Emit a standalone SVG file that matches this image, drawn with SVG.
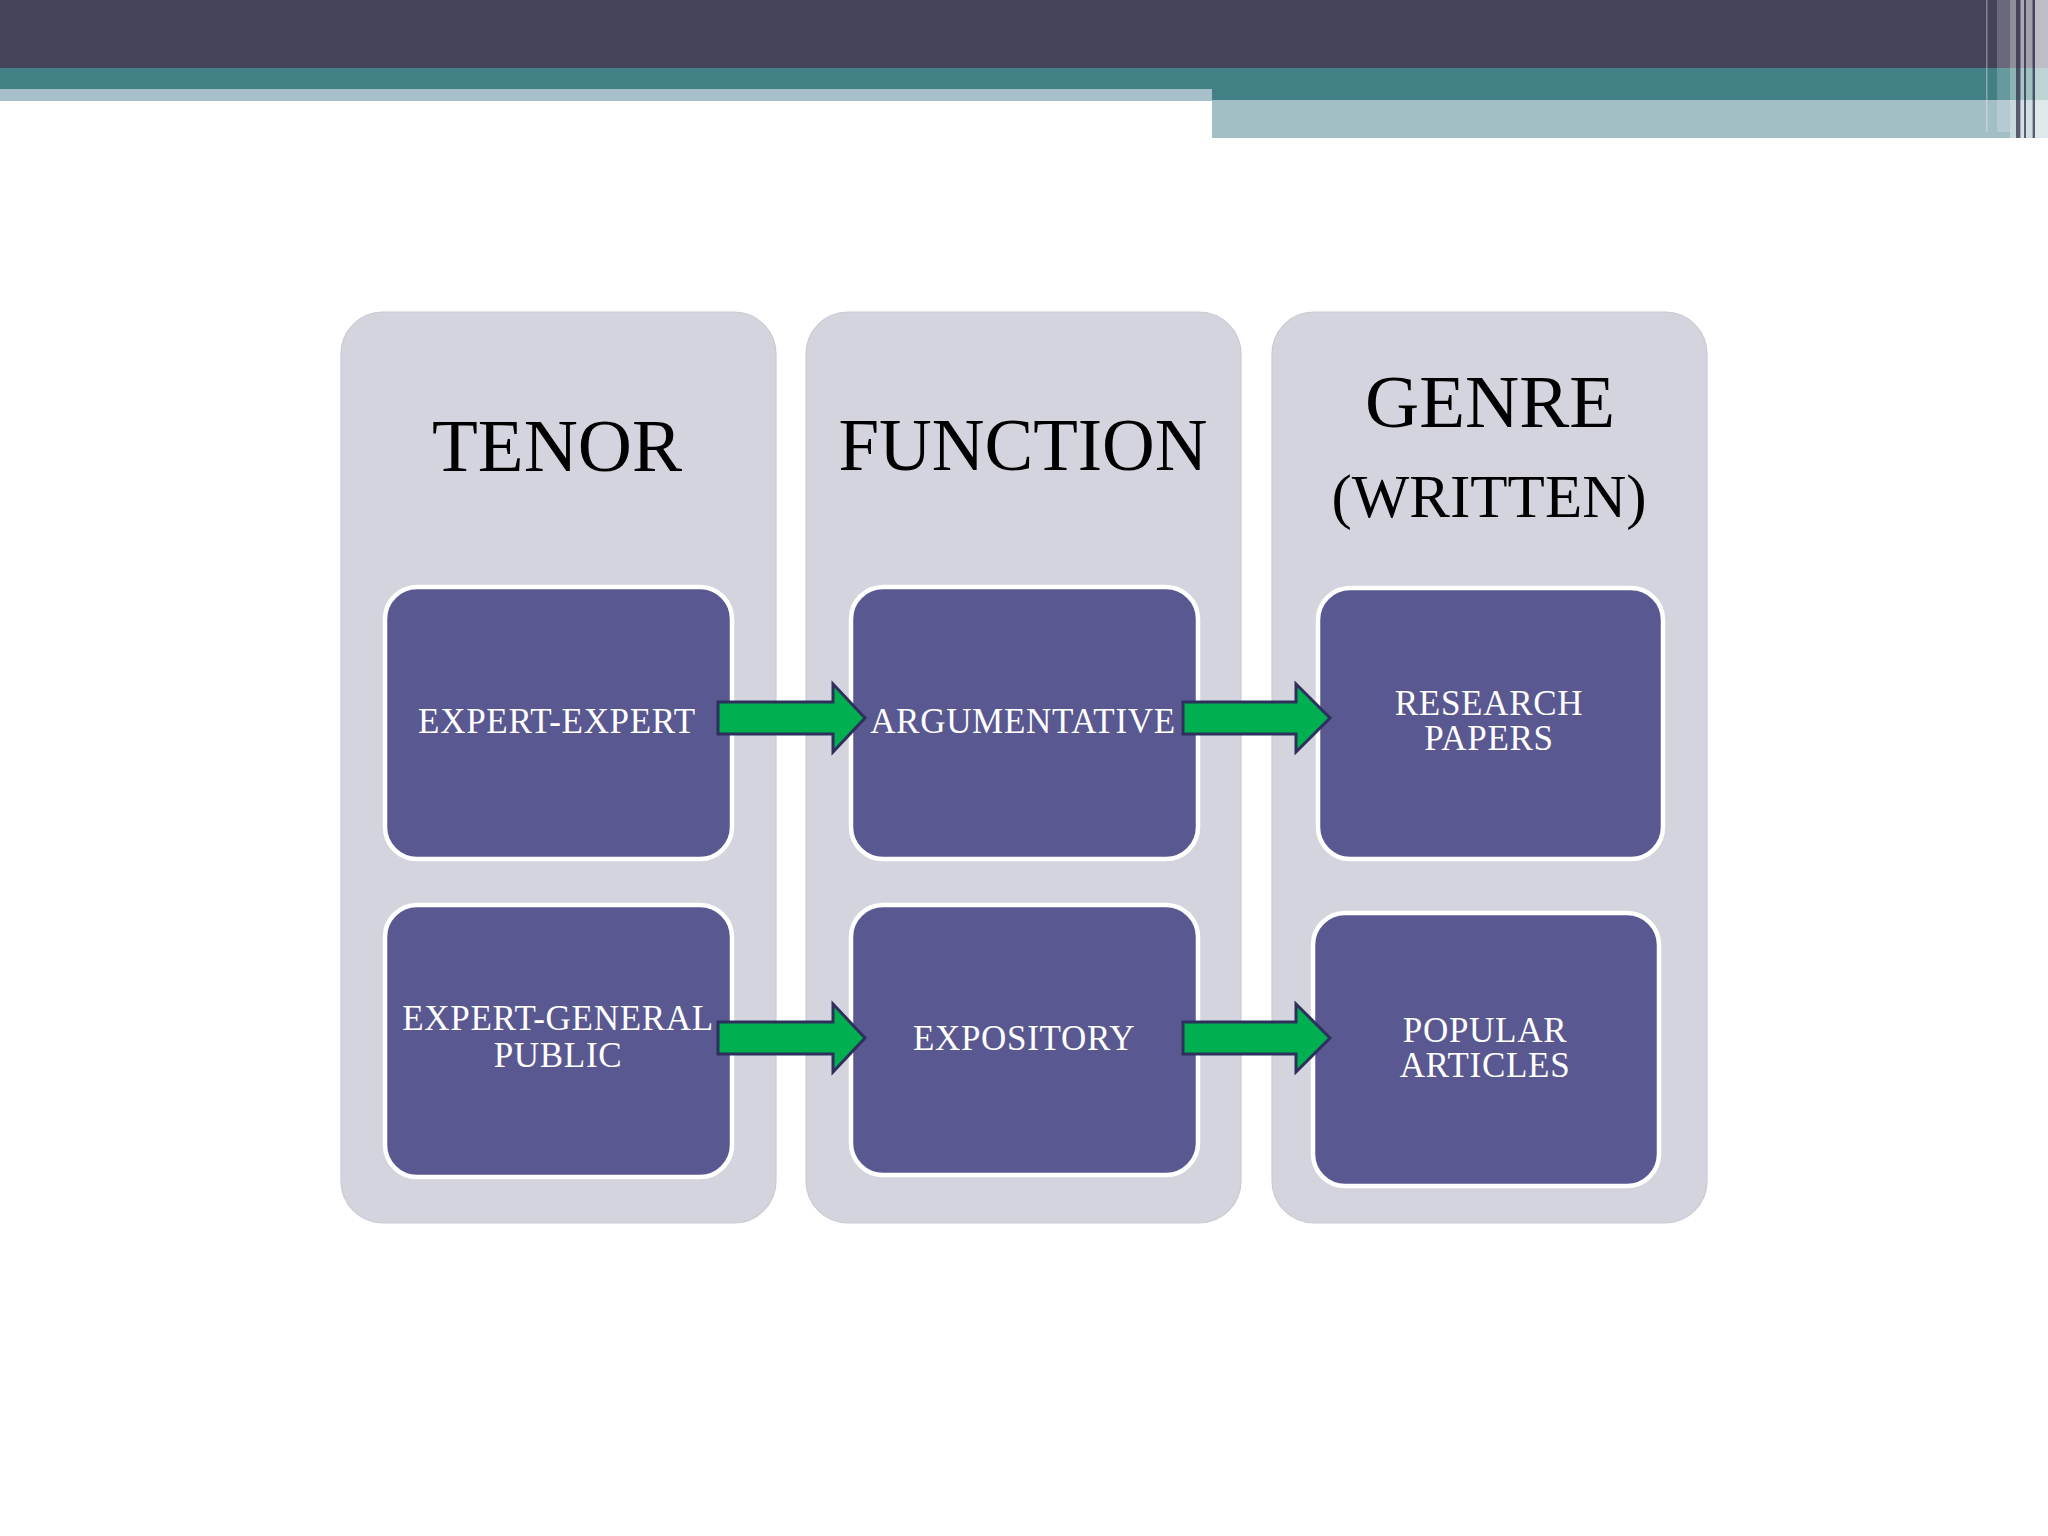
<svg xmlns="http://www.w3.org/2000/svg" width="2048" height="1536" viewBox="0 0 2048 1536">
<style>
.col{fill:#d4d4de;stroke:#cacad3;stroke-width:1.2}
.box{fill:#5a5890;stroke:#ffffff;stroke-width:4.5}
.title{font-family:"Liberation Serif","Times New Roman",serif;fill:#000;text-anchor:middle}
.lbl{font-family:"Liberation Serif","Times New Roman",serif;font-size:35px;fill:#ffffff;text-anchor:middle;letter-spacing:0.7px}
.arr{fill:#00b050;stroke:#2e2f5c;stroke-width:3;stroke-linejoin:miter}
</style>
<rect x="0" y="0" width="2048" height="1536" fill="#ffffff"/>
<g id="header">
<rect x="0" y="0" width="2048" height="69" fill="#45435a"/>
<rect x="0" y="68" width="2048" height="21" fill="#428085"/>
<rect x="0" y="89" width="1212" height="12" fill="#a6bfc9"/>
<rect x="1212" y="89" width="836" height="12" fill="#428085"/>
<rect x="1212" y="100" width="836" height="38" fill="#a3bfc6"/>
<rect x="1986" y="0" width="1.5" height="132" fill="#ffffff" opacity="0.35"/>
<rect x="1997" y="0" width="13" height="132" fill="#ffffff" opacity="0.2"/>
<rect x="2010" y="0" width="6" height="138" fill="#ffffff" opacity="0.4"/>
<rect x="2016" y="0" width="4.5" height="138" fill="#45435a" opacity="0.8"/>
<rect x="2020.5" y="0" width="3.5" height="138" fill="#ffffff" opacity="0.55"/>
<rect x="2024" y="0" width="2" height="138" fill="#45435a" opacity="0.8"/>
<rect x="2026" y="0" width="6.7" height="138" fill="#ffffff" opacity="0.5"/>
<rect x="2032.7" y="0" width="2.3" height="138" fill="#45435a" opacity="0.8"/>
<rect x="2035" y="0" width="13" height="138" fill="#ffffff" opacity="0.65"/>
</g>
<g id="col-tenor">
<rect class="col" x="341" y="312" width="435" height="911" rx="42"/>
<text class="title" x="557" y="471" font-size="75">TENOR</text>
</g>
<g id="col-function">
<rect class="col" x="806" y="312" width="435" height="911" rx="42"/>
<text class="title" x="1023" y="470" font-size="73">FUNCTION</text>
</g>
<g id="col-genre">
<rect class="col" x="1272" y="312" width="435" height="911" rx="42"/>
<text class="title" x="1490" y="427" font-size="75">GENRE</text>
<text class="title" x="1489" y="517" font-size="61">(WRITTEN)</text>
</g>
<g id="node-expert-expert">
<rect class="box" x="385" y="587" width="347" height="272" rx="32"/>
<text class="lbl" x="557" y="733">EXPERT-EXPERT</text>
</g>
<g id="node-expert-general">
<rect class="box" x="385" y="905" width="347" height="272" rx="32"/>
<text class="lbl" x="558" y="1030">EXPERT-GENERAL</text>
<text class="lbl" x="558" y="1067">PUBLIC</text>
</g>
<g id="node-argumentative">
<rect class="box" x="851" y="587" width="347" height="272" rx="32"/>
<text class="lbl" x="1023" y="733">ARGUMENTATIVE</text>
</g>
<g id="node-expository">
<rect class="box" x="851" y="905" width="347" height="270" rx="32"/>
<text class="lbl" x="1024" y="1050">EXPOSITORY</text>
</g>
<g id="node-research">
<rect class="box" x="1318" y="588" width="345" height="271" rx="32"/>
<text class="lbl" x="1489" y="715">RESEARCH</text>
<text class="lbl" x="1489" y="750">PAPERS</text>
</g>
<g id="node-popular">
<rect class="box" x="1313" y="913" width="346" height="273" rx="32"/>
<text class="lbl" x="1485" y="1042">POPULAR</text>
<text class="lbl" x="1485" y="1077">ARTICLES</text>
</g>
<g id="connectors">
<polygon class="arr" points="718,702 833,702 833,684 865,718 833,752 833,734 718,734"/>
<polygon class="arr" points="1183,702 1296,702 1296,684 1330,718 1296,752 1296,734 1183,734"/>
<polygon class="arr" points="718,1022 833,1022 833,1004 865,1038 833,1072 833,1054 718,1054"/>
<polygon class="arr" points="1183,1022 1296,1022 1296,1004 1330,1038 1296,1072 1296,1054 1183,1054"/>
</g>
</svg>
